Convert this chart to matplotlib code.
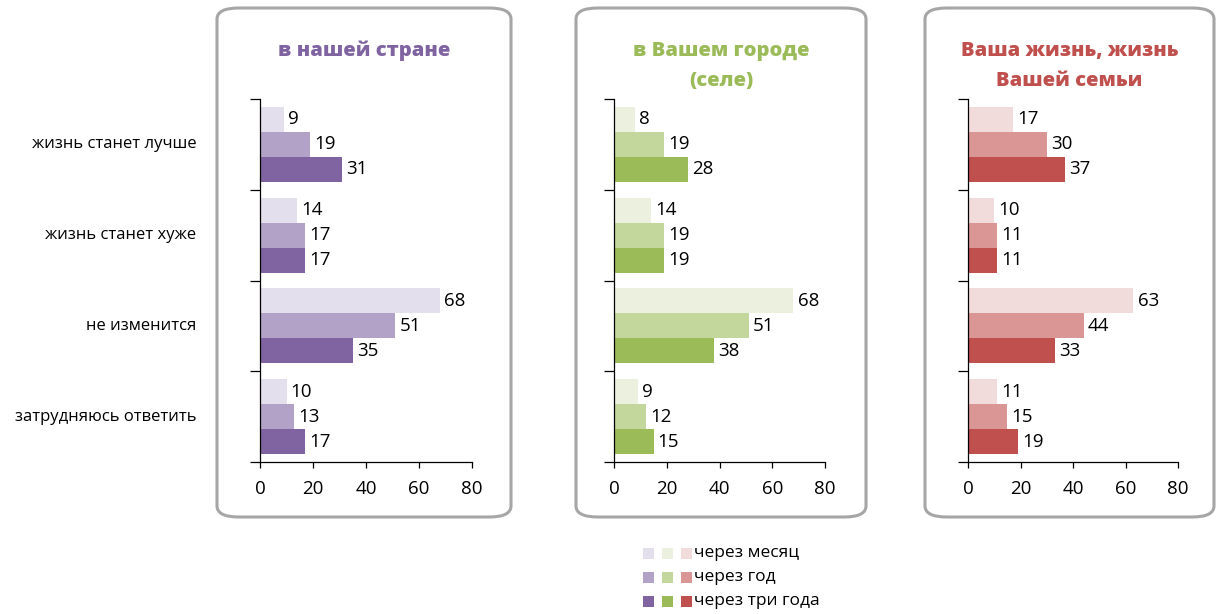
import matplotlib
matplotlib.use("Agg")
import matplotlib.pyplot as plt
from matplotlib.patches import FancyBboxPatch, Rectangle
import numpy as np

plt.rcParams['font.family'] = ['Open Sans', 'DejaVu Sans']

categories = ["жизнь станет лучше", "жизнь станет хуже", "не изменится", "затрудняюсь ответить"]
series_names = ["через месяц", "через год", "через три года"]
titles = ["в нашей стране", "в Вашем городе\n(селе)", "Ваша жизнь, жизнь\nВашей семьи"]

country = [[9, 19, 31], [14, 17, 17], [68, 51, 35], [10, 13, 17]]
city = [[8, 19, 28], [14, 19, 19], [68, 51, 38], [9, 12, 15]]
family = [[17, 30, 37], [10, 11, 11], [63, 44, 33], [11, 15, 19]]
panels = [country, city, family]

xticks = [0, 20, 40, 60, 80]

palettes = [
    ["#e4dfec", "#b3a2c7", "#8064a2"],
    ["#ebf1de", "#c3d69b", "#9bbb59"],
    ["#f2dcdb", "#d99694", "#c0504d"],
]
title_colors = ["#8064a2", "#9bbb59", "#c0504d"]

W, H = 1219, 614
fig = plt.figure(figsize=(W / 100, H / 100), dpi=100)

def fx(px):
    return px / W

def fy(py):
    return 1 - py / H

boxes = [(217, 511), (576, 866), (925, 1214)]
axes_x = [(260, 472), (614, 825), (968, 1178)]
ax_top, ax_bot = 99, 462

for i, (data, pal) in enumerate(zip(panels, palettes)):
    bx0, bx1 = boxes[i]
    box = FancyBboxPatch((fx(bx0), fy(517)), fx(bx1 - bx0), (517 - 8) / H,
                         boxstyle="round,pad=0,rounding_size=0.018",
                         transform=fig.transFigure, facecolor="none",
                         edgecolor="#a6a6a6", linewidth=2.2, zorder=0)
    fig.patches.append(box)
    tx = fx((bx0 + bx1) / 2)
    for k, line in enumerate(titles[i].split("\n")):
        fig.text(tx, fy(51 + 30 * k), line, ha="center", va="center",
                 fontsize=14.5, fontweight="heavy", color=title_colors[i])

    ax0, ax1 = axes_x[i]
    ax = fig.add_axes([fx(ax0), fy(ax_bot), fx(ax1 - ax0), (ax_bot - ax_top) / H])
    n = len(categories)
    h = 0.275
    for j in range(3):
        vals = [row[j] for row in data]
        ys = np.arange(n) + (j - 1) * h
        ax.barh(ys, vals, height=h, color=pal[j], edgecolor="none")
        for y, v in zip(ys, vals):
            ax.text(v + 1.6, y, str(v), va="center", ha="left", fontsize=13.5)
    ax.set_xlim(0, 80)
    ax.set_ylim(n - 0.5, -0.5)
    ax.set_xticks(xticks)
    ax.set_xticklabels([str(t) for t in xticks], fontsize=13.5)
    ax.set_yticks(np.arange(n + 1) - 0.5)
    ax.set_yticklabels([])
    ax.tick_params(axis="y", length=7, width=0.9, direction="out")
    ax.tick_params(axis="x", length=4, width=0.9, direction="out", pad=9)
    for s in ["top", "right"]:
        ax.spines[s].set_visible(False)
    ax.spines["left"].set_linewidth(0.9)
    ax.spines["bottom"].set_linewidth(0.9)
    ax.patch.set_alpha(0)
    if i == 0:
        for k, c in enumerate(categories):
            ax.text(-0.3, k, c, transform=ax.get_yaxis_transform(), ha="right",
                    va="center", fontsize=12)

# legend
leg_x = [643, 662, 681]
leg_rows = [553, 577, 601]
for r, name in enumerate(series_names):
    for c in range(3):
        fig.patches.append(Rectangle((fx(leg_x[c]), fy(leg_rows[r] + 5.5)), fx(11), 11 / H,
                                     transform=fig.transFigure, facecolor=palettes[c][r],
                                     edgecolor="none"))
    fig.text(fx(694), fy(leg_rows[r]), name, ha="left", va="center", fontsize=12.5)

fig.savefig("out.png", dpi=100)
